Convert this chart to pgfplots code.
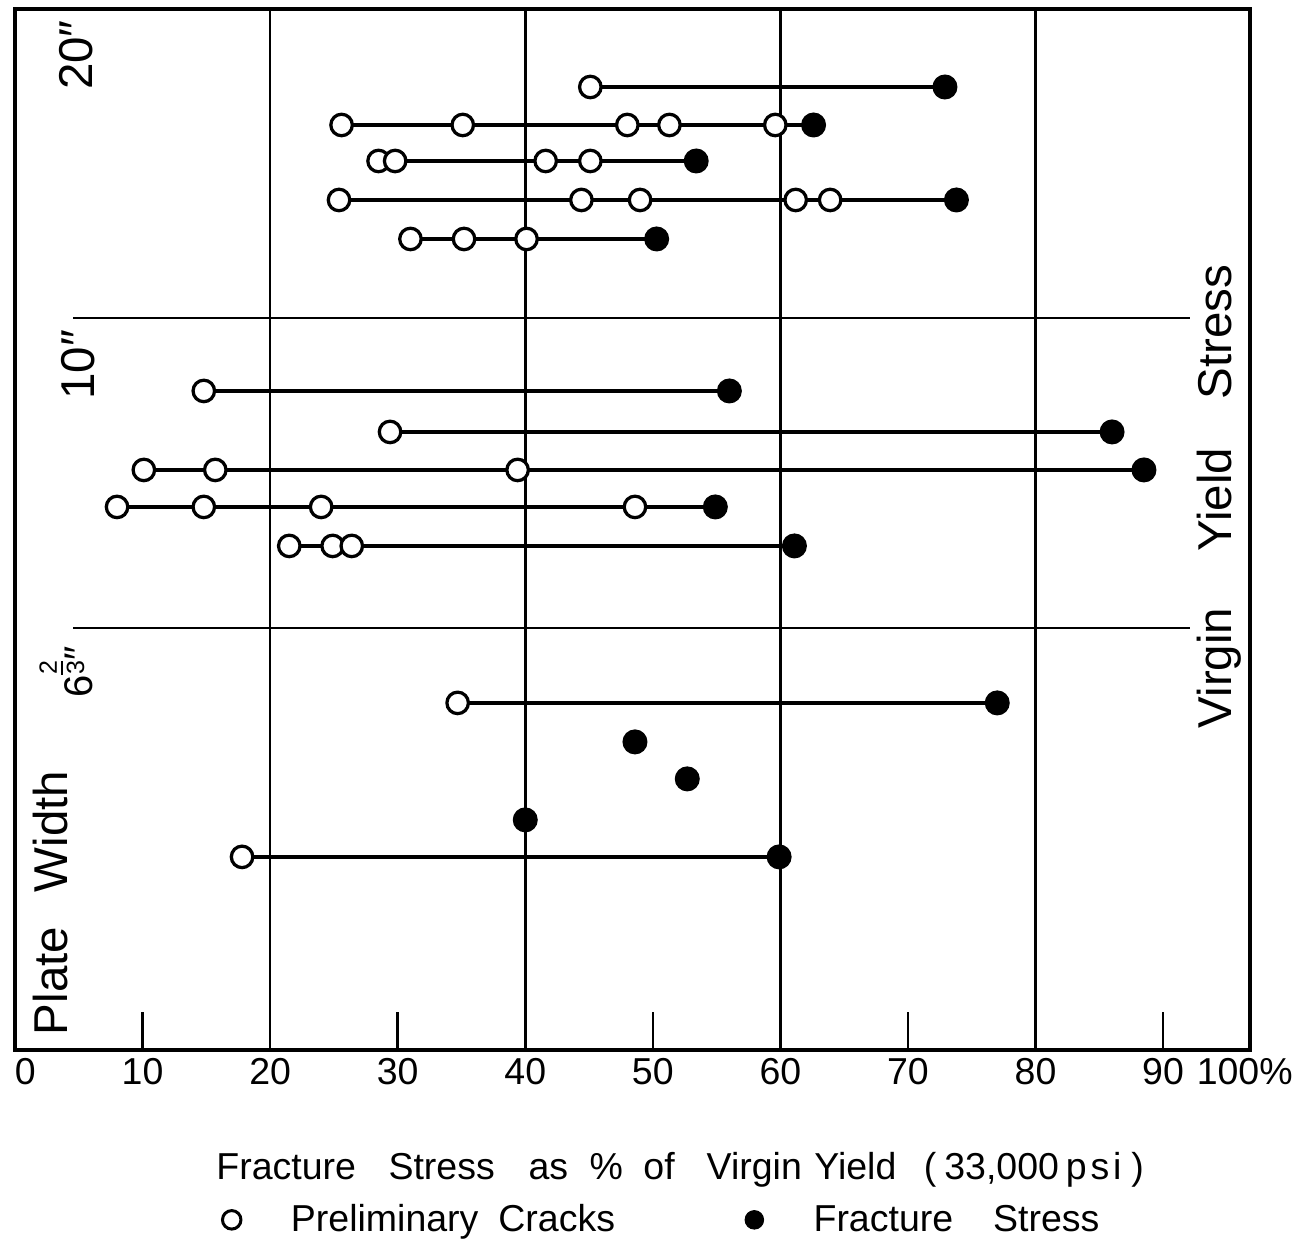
\documentclass[border=0pt]{standalone}
\usepackage{fontspec}
\setmainfont{Liberation Sans}
\usepackage{pgfplots}
\pgfplotsset{compat=1.18}

\newcommand\lblfont{\fontsize{15}{18}\selectfont}
\newcommand\sidefont{\fontsize{19}{22}\selectfont}
\newcommand\inch{\char"2033\relax}
% stacked fraction with a bar, sitting a little above the baseline
\newcommand\stackfrac[2]{\raisebox{3.5pt}{\fontsize{10}{10}\selectfont
  \vbox{\halign{\hfil##\hfil\cr #1\cr\noalign{\kern1.5pt\hrule height0.9pt\kern1.5pt}#2\cr}}}}

% one row of a test: o = preliminary crack, f = fracture
\pgfplotsset{
  crack row/.style={black, line width=1.7pt, forget plot,
    scatter, scatter src=explicit symbolic,
    scatter/classes={
      o={mark=*, mark size=4.3pt, draw=black, fill=white, line width=1.3pt},
      f={mark=*, mark size=4.7pt, draw=black, fill=black, line width=0.6pt}}},
}

\begin{document}
\begin{tikzpicture}
\begin{axis}[
  scale only axis, width=494pt, height=416.4pt,
  xmin=0, xmax=96.8, ymin=9, ymax=1050, y dir=reverse,
  clip=false,
  axis line style={line width=1.8pt},
  xtick={10,30,50,70,90}, xtick pos=left, tick align=inside,
  major tick length=15pt,
  major tick style={line width=1pt, black},
  extra x ticks={20,40,60,80},
  extra x tick style={grid=major, major tick length=0pt},
  major grid style={black, line width=1pt},
  ytick=\empty,
  tick label style={font=\lblfont},
  /pgf/number format/assume math mode=true,
  legend style={at={(0.1676,-0.1633)}, anchor=west, draw=none, fill=none,
    inner sep=0pt, font=\lblfont,
    /tikz/every odd column/.append style={column sep=18pt},
    /tikz/every even column/.append style={column sep=50pt}},
  legend columns=2, legend cell align=left,
  legend image code/.code={\draw[#1] plot coordinates {(0pt,0pt)};},
]
% 20 inch plates
\addplot[crack row] table[meta=c, row sep=\\] {x y c\\ 45.1 87 o\\ 72.9 87 f\\};
\addplot[crack row] table[meta=c, row sep=\\] {x y c\\ 25.6 125 o\\ 35.1 125 o\\ 48.0 125 o\\ 51.3 125 o\\ 59.6 125 o\\ 62.6 125 f\\};
\addplot[crack row] table[meta=c, row sep=\\] {x y c\\ 28.5 161 o\\ 29.8 161 o\\ 41.6 161 o\\ 45.1 161 o\\ 53.4 161 f\\};
\addplot[crack row] table[meta=c, row sep=\\] {x y c\\ 25.4 200 o\\ 44.4 200 o\\ 49.0 200 o\\ 61.2 200 o\\ 63.9 200 o\\ 73.8 200 f\\};
\addplot[crack row] table[meta=c, row sep=\\] {x y c\\ 31.0 239 o\\ 35.2 239 o\\ 40.1 239 o\\ 50.3 239 f\\};
% 10 inch plates
\addplot[crack row] table[meta=c, row sep=\\] {x y c\\ 14.8 391 o\\ 56.0 391 f\\};
\addplot[crack row] table[meta=c, row sep=\\] {x y c\\ 29.4 432 o\\ 86.0 432 f\\};
\addplot[crack row] table[meta=c, row sep=\\] {x y c\\ 10.1 470 o\\ 15.7 470 o\\ 39.4 470 o\\ 88.5 470 f\\};
\addplot[crack row] table[meta=c, row sep=\\] {x y c\\ 8.0 507 o\\ 14.8 507 o\\ 24.0 507 o\\ 48.6 507 o\\ 54.9 507 f\\};
\addplot[crack row] table[meta=c, row sep=\\] {x y c\\ 21.5 546 o\\ 24.9 546 o\\ 26.4 546 o\\ 61.1 546 f\\};
% 6 2/3 inch plates
\addplot[crack row] table[meta=c, row sep=\\] {x y c\\ 34.7 703 o\\ 77.0 703 f\\};
\addplot[crack row] table[meta=c, row sep=\\] {x y c\\ 48.6 742 f\\};
\addplot[crack row] table[meta=c, row sep=\\] {x y c\\ 52.7 779 f\\};
\addplot[crack row] table[meta=c, row sep=\\] {x y c\\ 40.0 820 f\\};
\addplot[crack row] table[meta=c, row sep=\\] {x y c\\ 17.8 857 o\\ 59.9 857 f\\};

\addlegendimage{only marks, mark=*, mark size=3.7pt, mark options={draw=black, fill=white, line width=1.2pt}}
\addlegendentry{Preliminary\hspace{8pt}Cracks}
\addlegendimage{only marks, mark=*, mark size=3.7pt, mark options={draw=black, fill=black}}
\addlegendentry{Fracture\hspace{16pt}Stress}

% group separators
\draw[line width=0.8pt] (axis cs:4.55,318) -- (axis cs:92.1,318);
\draw[line width=0.8pt] (axis cs:4.55,628) -- (axis cs:92.1,628);

% end labels of the scale
\node[anchor=north, font=\lblfont] at (axis cs:0.8,1050) {0};
\node[anchor=north, font=\lblfont] at (axis cs:96.4,1050) {100\%};

% axis title
\node[anchor=base west, font=\lblfont] at (axis cs:15.1,1180)
  {Fracture\hspace{13pt}Stress\hspace{13.5pt}as\hspace{8.6pt}\%\hspace{8.2pt}of\hspace{12.8pt}Virgin\hspace{5pt}Yield\hspace{11pt}(\hspace{3.2pt}33,000\hspace{2.8pt}p\hspace{1.5pt}s\hspace{1.5pt}i\hspace{4pt})};

% plate widths
\node[rotate=90, anchor=base, font=\sidefont] at (axis cs:6.04,55) {20\inch};
\node[rotate=90, anchor=base, font=\sidefont] at (axis cs:6.27,365) {10\inch};
\node[rotate=90, anchor=base, font=\fontsize{16}{19}\selectfont] at (axis cs:6.1,672)
  {6\stackfrac{2}{3}\inch};
\node[rotate=90, anchor=base, font=\sidefont] at (axis cs:4.15,903) {Plate\hspace{14pt}Width};

% right hand label
\node[rotate=90, anchor=base, font=\sidefont] at (axis cs:95.4,332) {Stress};
\node[rotate=90, anchor=base, font=\sidefont] at (axis cs:95.4,500) {Yield};
\node[rotate=90, anchor=base, font=\sidefont] at (axis cs:95.4,668) {Virgin};

% page extent
\path (axis cs:-1.176,0) rectangle (axis cs:101.83,1243);
\end{axis}
\end{tikzpicture}
\end{document}
